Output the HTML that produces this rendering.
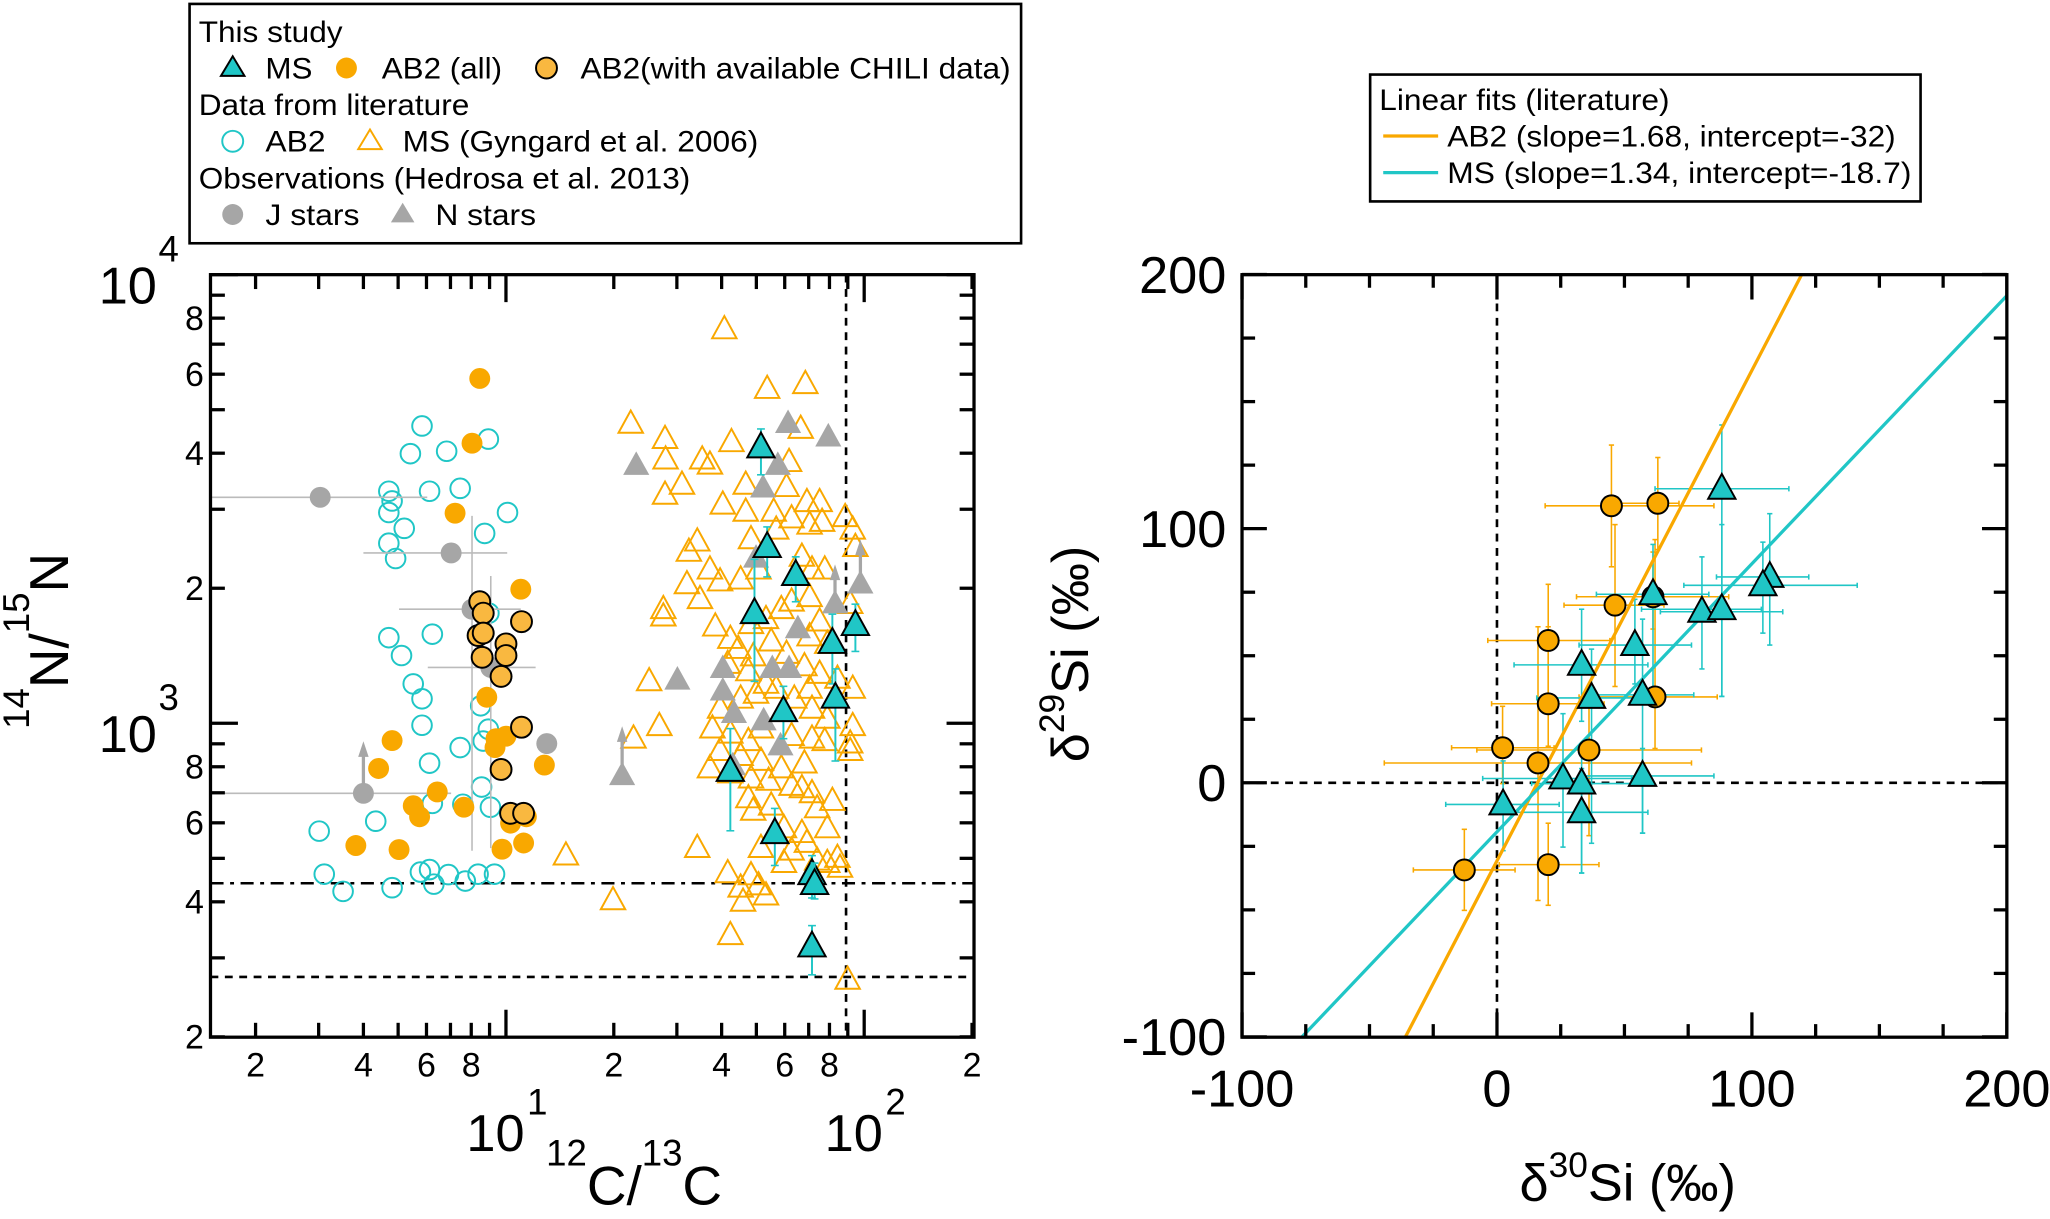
<!DOCTYPE html>
<html><head><meta charset="utf-8">
<style>
html,body{margin:0;padding:0;background:#fff;overflow:hidden;width:2050px;height:1219px;}
svg{display:block;font-family:"Liberation Sans",Arial,sans-serif;}
</style></head>
<body>
<svg id="chart" width="2050" height="1219" viewBox="0 0 1568 932" preserveAspectRatio="none" xmlns="http://www.w3.org/2000/svg">
<defs>
<clipPath id="clipL"><rect x="161" y="210" width="584" height="583"/></clipPath>
<clipPath id="clipR"><rect x="950" y="210" width="585" height="583"/></clipPath>
</defs>
<rect x="0" y="0" width="1568" height="932" fill="#fff"/>

<!-- Left legend -->
<g>
<rect x="145" y="3" width="636" height="183" fill="#fff" stroke="#000" stroke-width="2"/>
<text x="152" y="32" font-size="22.5" textLength="110" lengthAdjust="spacingAndGlyphs">This study</text>
<polygon points="178,43 169,58 187,58" fill="#20c6c6" stroke="#000" stroke-width="1.5"/>
<text x="203" y="60" font-size="22.5" textLength="36" lengthAdjust="spacingAndGlyphs">MS</text>
<circle cx="265" cy="52" r="8" fill="#f9a800"/>
<text x="292" y="60" font-size="22.5" textLength="92" lengthAdjust="spacingAndGlyphs">AB2 (all)</text>
<circle cx="418" cy="52" r="8" fill="#f9b840" stroke="#000" stroke-width="1.5"/>
<text x="444" y="60" font-size="22.5" textLength="329" lengthAdjust="spacingAndGlyphs">AB2(with available CHILI data)</text>
<text x="152" y="88" font-size="22.5" textLength="207" lengthAdjust="spacingAndGlyphs">Data from literature</text>
<circle cx="178" cy="108" r="8" fill="none" stroke="#20c6c6" stroke-width="1.5"/>
<text x="203" y="116" font-size="22.5" textLength="46" lengthAdjust="spacingAndGlyphs">AB2</text>
<polygon points="283,99 274,114 292,114" fill="none" stroke="#f9a800" stroke-width="1.5"/>
<text x="308" y="116" font-size="22.5" textLength="272" lengthAdjust="spacingAndGlyphs">MS (Gyngard et al. 2006)</text>
<text x="152" y="144" font-size="22.5" textLength="376" lengthAdjust="spacingAndGlyphs">Observations (Hedrosa et al. 2013)</text>
<circle cx="178" cy="164" r="8" fill="#a6a6a6"/>
<text x="203" y="172" font-size="22.5" textLength="72" lengthAdjust="spacingAndGlyphs">J stars</text>
<polygon points="308,155 299,170 317,170" fill="#a6a6a6"/>
<text x="333" y="172" font-size="22.5" textLength="77" lengthAdjust="spacingAndGlyphs">N stars</text>
</g>

<!-- Right legend -->
<g>
<rect x="1048" y="57" width="421" height="97" fill="#fff" stroke="#000" stroke-width="2"/>
<text x="1055" y="84" font-size="22.5" textLength="222" lengthAdjust="spacingAndGlyphs">Linear fits (literature)</text>
<line x1="1058" y1="104" x2="1100" y2="104" stroke="#f9a800" stroke-width="2.5"/>
<text x="1107" y="112" font-size="22.5" textLength="343" lengthAdjust="spacingAndGlyphs">AB2 (slope=1.68, intercept=-32)</text>
<line x1="1058" y1="132" x2="1100" y2="132" stroke="#20c6c6" stroke-width="2.5"/>
<text x="1107" y="140" font-size="22.5" textLength="355" lengthAdjust="spacingAndGlyphs">MS (slope=1.34, intercept=-18.7)</text>
</g>

<!-- Left axis titles -->
<text x="485" y="921" font-size="42" text-anchor="middle"><tspan font-size="28" dy="-30">12</tspan><tspan dy="30">C/</tspan><tspan font-size="28" dy="-30">13</tspan><tspan dy="30">C</tspan></text>
<text transform="translate(52,490) rotate(-90)" font-size="42" text-anchor="middle"><tspan font-size="28" dy="-30">14</tspan><tspan dy="30">N/</tspan><tspan font-size="28" dy="-30">15</tspan><tspan dy="30">N</tspan></text>
<!-- Right axis titles -->
<text x="1245" y="918" font-size="40" text-anchor="middle">δ<tspan font-size="27" dy="-18">30</tspan><tspan dy="18">Si (‰)</tspan></text>
<text transform="translate(832,500) rotate(-90)" font-size="40" text-anchor="middle">δ<tspan font-size="27" dy="-18">29</tspan><tspan dy="18">Si (‰)</tspan></text>

<g id="plots"></g>
</svg>

<script>
// ---------- LEFT PANEL DATA (12C/13C, 14N/15N) ----------
const ab2Lit = [[5.83,4600],[8.93,4300],[5.41,3990],[6.83,4040],[4.71,3290],[4.81,3130],[4.71,2950],[6.12,3290],[7.45,3340],[10.1,2950],[5.2,2720],[8.72,2650],[4.71,2520],[4.92,2330],[4.71,1552],[6.23,1580],[5.11,1416],[5.51,1224],[5.83,1134],[5.83,990],[8.96,1760],[8.5,1094],[8.93,970],[8.64,913],[7.45,883],[6.12,815],[8.55,721],[9.05,650],[6.23,663],[7.58,660],[4.33,605],[3.01,575],[3.11,461],[3.51,422],[4.81,430],[5.77,466],[6.12,472],[6.29,438],[6.91,460],[7.70,445],[8.36,461],[9.29,461]];
const msLit = [[40.7,7550],[53.6,5560],[68.5,5700],[22.3,4650],[27.8,4300],[42.6,4230],[66.5,4530],[61.7,3820],[35.3,3870],[37.1,3770],[27.9,3870],[31.0,3400],[27.8,3230],[46.7,3400],[60.7,3360],[40.3,3070],[46.7,2960],[55.9,2960],[62.7,2860],[69.2,3110],[75.1,3110],[88.5,2880],[92.9,2700],[70.4,2770],[76.3,2810],[48.3,2570],[56.8,2700],[34.2,2540],[32.4,2410],[37.1,2200],[39.6,2070],[45.2,2090],[50.7,2200],[67.0,2350],[71.5,2200],[77.6,2200],[94.5,2470],[32.0,2040],[34.8,1890],[27.5,1796],[27.5,1729],[38.4,1642],[42.3,1541],[48.3,1663],[53.2,1706],[58.7,1796],[62.7,1866],[70.4,1910],[75.1,1685],[91.4,1843],[49.0,1409],[44.5,1464],[55.0,1521],[60.7,1427],[70.4,1561],[78.9,1502],[41.6,1356],[47.5,1305],[53.2,1224],[68.1,1339],[75.1,1288],[84.2,1256],[92.9,1193],[70.4,1193],[25.1,1240],[26.8,985],[22.7,924],[39.6,1077],[45.2,1134],[49.9,1163],[56.8,1193],[63.8,1134],[71.5,1077],[78.9,1023],[92.9,985],[37.7,973],[42.3,948],[47.5,912],[51.5,973],[62.7,936],[71.5,924],[77.6,912],[91.4,901],[91.4,867],[39.6,867],[45.2,845],[51.5,824],[58.7,793],[68.1,813],[37.1,793],[42.3,773],[48.3,753],[54.1,744],[62.7,725],[71.5,698],[81.5,671],[34.2,527],[47.5,680],[49.0,638],[55.0,655],[67.0,716],[73.9,646],[78.9,583],[51.5,527],[62.7,520],[69.2,541],[84.2,501],[85.6,476],[41.6,463],[48.3,458],[45.2,430],[50.7,435],[53.2,413],[45.9,400],[19.9,403],[42.3,337],[73.9,494],[89.9,268],[59.7,583],[14.7,507],[67.0,569],[78.9,488],[59.7,488]];
const ab2All = [[8.45,5870],[8.04,4210],[7.21,2940],[11.0,1990],[4.81,915],[4.41,793],[6.43,703],[5.51,655],[5.74,619],[7.63,650],[3.81,534],[5.03,523],[8.84,1143],[9.38,924],[9.32,883],[10.0,936],[12.8,807],[10.3,599],[11.2,541],[9.75,524],[11.4,619]];
const ab2Chili = [[8.45,1866],[8.64,1760],[8.36,1569],[8.64,1589],[8.58,1403],[10.0,1503],[10.0,1416],[11.05,1685],[9.69,1272],[11.05,980],[9.69,789],[10.3,630],[11.2,630]];
const jStars = [[3.03,3190],[7.03,2397],[8.04,1796],[9.07,1332],[13.0,901],[4.0,698]];
const jXLo = [1.45,4.0,5.03,6.05,13.0,1.45];
const jXHi = [6.03,10.08,11.0,12.1,13.0,7.03];
const jYLo = [3190,2397,520,527,901,698];
const jYHi = [3190,2397,2900,2130,901,698];
const jArrow = [0,0,0,0,0,912];
const nStars = [[23.1,3750],[30.1,1246],[21.1,763],[61.3,4650],[57.4,3750],[79.4,4340],[52.2,3340],[49.9,2330],[82.9,1843],[97.6,2040],[65.3,1622],[55.4,1322],[61.7,1322],[40.3,1322],[40.3,1178],[43.3,1050],[52.4,1011],[58.4,889],[43.0,803]];
const nArrow = [0,0,985,0,0,0,0,0,2260,2568,0,0,0,0,0,0,0,0,0];
const msStudy = [[51.5,4120],[53.6,2470],[64.4,2140],[49.4,1760],[81.5,1510],[94.5,1655],[83.1,1140],[59.5,1064],[42.3,783],[56.3,569],[71.5,461],[72.7,438],[71.5,318]];
const msYLo = [3580,2120,1866,1240,1224,1446,824,924,576,482,408,406,275];
const msYHi = [4530,2740,2350,2320,1751,1843,1322,1209,973,646,507,488,354];
const refLinesY = [440,272];   // dash-dot, dashed
const refLineX = [89];
const leftMinorLabels = [2,4,6,8,20,40,60,80,200];
const leftYMinorLabels = [200,400,600,800,2000,4000,6000,8000];

// ---------- RIGHT PANEL DATA (δ30Si, δ29Si) ----------
const ab2Si = [[44.9,109.0],[63.1,110.0],[46.3,69.9],[20.1,56.0],[20.1,31.1],[62.0,33.8],[2.2,13.8],[16.1,7.8],[36.1,12.9],[-12.8,-34.3],[20.1,-32.2],[61.2,73.2]];
const ab2SiXLo = [18.9,43.9,26.3,-3.6,-2.1,32.2,-17.8,-44.2,-7.9,-32.8,0.9,31.2];
const ab2SiXHi = [85.1,71.4,65.5,44.3,42.0,86.4,22.4,76.3,80.2,7.1,40.0,90.9];
const ab2SiYLo = [85.0,91.8,37.9,33.0,14.4,13.5,-0.3,-46.3,-20.8,-50.2,-48.2,60.5];
const ab2SiYHi = [132.9,128.0,101.6,78.1,61.4,95.7,30.1,61.4,31.1,-18.3,-15.9,90.8];
const msSi = [[88.2,115.7],[107.0,81.0],[104.3,77.7],[80.4,67.3],[88.2,68.3],[61.2,74.2],[54.1,54.2],[33.2,46.4],[37.1,33.4],[57.1,34.6],[25.9,1.7],[33.2,-0.3],[57.1,2.7],[2.4,-8.5],[33.2,-11.6]];
const msSiXLo = [62.0,86.1,73.3,64.1,56.7,39.0,32.2,6.7,15.6,39.0,-5.6,13.6,34.2,-20.1,5.8];
const msSiXHi = [114.5,122.3,141.3,112.1,103.7,83.1,76.3,59.2,58.6,77.2,52.8,52.8,85.1,24.4,59.2];
const msSiYLo = [34.0,54.2,58.9,44.8,34.0,31.1,38.9,24.2,-23.8,-19.8,-25.3,-35.5,-19.8,-26.7,-35.5];
const msSiYHi = [140.8,105.9,94.7,88.9,101.6,93.8,72.2,68.3,52.6,64.4,27.2,15.4,13.5,8.6,5.6];
const fitNames = ['ab2-fit-line','ms-fit-line'];
const fitSlopes = [1.93,1.055];
const fitIntercepts = [-30.7,-19.3];
const rightTicks = [-100,0,100,200];

const CYAN='#20c6c6', ORANGE='#f9a800', GRAY='#a6a6a6', CHILI='#f9b840';
const NS='http://www.w3.org/2000/svg';
const root=document.getElementById('plots');
function mk(tag, attrs, parent){const e=document.createElementNS(NS,tag);for(const k in attrs)e.setAttribute(k,attrs[k]);(parent||root).appendChild(e);return e;}

// axes
const LXMIN=10**(1-226/274);
const lx=v=>387+274*(Math.log10(Math.max(v,LXMIN))-1);
const ly=v=>553-343*(Math.log10(v)-3);
const rx=v=>1145+1.95*v;
const ry=v=>598.5-1.943*v;

function tri(x,y,s,fill,stroke,parent){
  return mk('polygon',{points:`${x},${y-s*0.6} ${x-s*0.55},${y+s*0.4} ${x+s*0.55},${y+s*0.4}`,fill:fill,stroke:stroke,'stroke-width':1.5},parent);
}
function txt(x,y,s,size,anchor,parent){
  const t=mk('text',{x:x,y:y,'font-size':size,'text-anchor':anchor},parent);t.textContent=s;return t;
}

// ===== LEFT PANEL =====
const gL=mk('g',{'clip-path':'url(#clipL)'});



refLinesY.forEach((v,i)=>{
  const l=mk('line',{x1:161,x2:745,y1:ly(v),y2:ly(v),stroke:'#000','stroke-width':2,'stroke-dasharray':i===0?'10,5,3,5':'6,5'},gL);
  
  
});
refLineX.forEach(v=>{
  const l=mk('line',{x1:lx(v),x2:lx(v),y1:210,y2:793,stroke:'#000','stroke-width':2,'stroke-dasharray':'6,5'},gL);
  
  
});

ab2Lit.forEach(p=>{
  const c=mk('circle',{cx:lx(p[0]),cy:ly(p[1]),r:7.5,fill:'none',stroke:CYAN,'stroke-width':1.5},gL);
  
  
});
msLit.forEach(p=>{
  const t=tri(lx(p[0]),ly(p[1]),17,'none',ORANGE,gL);
  
  
});
// J stars
jStars.forEach((p,i)=>{
  const g=mk('g',{},gL);
  
  
  const x=lx(p[0]),y=ly(p[1]);
  if(jXLo[i]!==jXHi[i]) mk('line',{x1:lx(jXLo[i]),x2:lx(jXHi[i]),y1:y,y2:y,stroke:'#bbb','stroke-width':1.2},g);
  if(jYLo[i]!==jYHi[i]) mk('line',{x1:x,x2:x,y1:ly(jYLo[i]),y2:ly(jYHi[i]),stroke:'#bbb','stroke-width':1.2},g);
  if(jArrow[i]){mk('line',{x1:x,x2:x,y1:y,y2:ly(jArrow[i])+6,stroke:GRAY,'stroke-width':2.5},g);
    mk('polygon',{points:`${x},${ly(jArrow[i])} ${x-4},${ly(jArrow[i])+12} ${x+4},${ly(jArrow[i])+12}`,fill:GRAY},g);}
  mk('circle',{cx:x,cy:y,r:8,fill:GRAY},g);
});
nStars.forEach((p,i)=>{
  const g=mk('g',{},gL);
  
  
  const x=lx(p[0]),y=ly(p[1]);
  if(nArrow[i]){mk('line',{x1:x,x2:x,y1:y,y2:ly(nArrow[i])+6,stroke:GRAY,'stroke-width':2.5},g);
    mk('polygon',{points:`${x},${ly(nArrow[i])} ${x-4},${ly(nArrow[i])+12} ${x+4},${ly(nArrow[i])+12}`,fill:GRAY},g);}
  mk('polygon',{points:`${x},${y-11} ${x-10},${y+7} ${x+10},${y+7}`,fill:GRAY},g);
});
ab2All.forEach(p=>{
  const c=mk('circle',{cx:lx(p[0]),cy:ly(p[1]),r:8,fill:ORANGE},gL);
  
  
});
ab2Chili.forEach(p=>{
  const c=mk('circle',{cx:lx(p[0]),cy:ly(p[1]),r:8,fill:CHILI,stroke:'#000','stroke-width':1.5},gL);
  
  
});
msStudy.forEach((p,i)=>{
  const g=mk('g',{},gL);
  
  
  const x=lx(p[0]);
  mk('line',{x1:x,x2:x,y1:ly(msYLo[i]),y2:ly(msYHi[i]),stroke:CYAN,'stroke-width':1.5},g);
  mk('line',{x1:x-3,x2:x+3,y1:ly(msYLo[i]),y2:ly(msYLo[i]),stroke:CYAN,'stroke-width':1.2},g);
  mk('line',{x1:x-3,x2:x+3,y1:ly(msYHi[i]),y2:ly(msYHi[i]),stroke:CYAN,'stroke-width':1.2},g);
  tri(x,ly(p[1]),19,CYAN,'#000',g);
});

// left frame & ticks
const fL=mk('rect',{x:161,y:210,width:584,height:583,fill:'none',stroke:'#000','stroke-width':2.5});


const tkL=mk('g',{stroke:'#000','stroke-width':2.5});


[1,10,100].forEach(d=>{for(let m=1;m<=9;m++){const v=d*m;const x=lx(v);if(x<161.5||x>744.5)continue;const L=m===1?21:11;
  mk('line',{x1:x,x2:x,y1:793,y2:793-L},tkL);mk('line',{x1:x,x2:x,y1:210,y2:210+L},tkL);}});
[100,1000,10000].forEach(d=>{for(let m=1;m<=9;m++){const v=d*m;const y=ly(v);if(y<209.5||y>793.5)continue;const L=m===1?21:11;
  mk('line',{x1:161,x2:161+L,y1:y,y2:y},tkL);mk('line',{x1:745,x2:745-L,y1:y,y2:y},tkL);}});
const lblL=mk('g',{});


leftMinorLabels.forEach(v=>{txt(lx(v),823,String(v).charAt(0),26,'middle',lblL);});
leftYMinorLabels.forEach(v=>{txt(156,ly(v)+9,String(v).charAt(0),26,'end',lblL);});
[[10,'1'],[100,'2']].forEach(a=>{const x=lx(a[0]);txt(x-8,880,'10',40,'middle',lblL);txt(x+24,852,a[1],28,'middle',lblL);});
[[10000,'4'],[1000,'3']].forEach(a=>{const y=ly(a[0]);txt(120,y+22,'10',40,'end',lblL);txt(129,y-10,a[1],28,'middle',lblL);});

// ===== RIGHT PANEL =====
const gR=mk('g',{'clip-path':'url(#clipR)'});


const z1=mk('line',{x1:950,x2:1535,y1:ry(0),y2:ry(0),stroke:'#000','stroke-width':2,'stroke-dasharray':'6,5'},gR);


const z2=mk('line',{x1:rx(0),x2:rx(0),y1:210,y2:793,stroke:'#000','stroke-width':2,'stroke-dasharray':'6,5'},gR);



function errs(pts,xlo,xhi,ylo,yhi,col,g){
  pts.forEach((p,i)=>{const x=rx(p[0]),y=ry(p[1]);
    mk('line',{x1:rx(xlo[i]),x2:rx(xhi[i]),y1:y,y2:y,stroke:col,'stroke-width':1.2},g);
    mk('line',{x1:x,x2:x,y1:ry(ylo[i]),y2:ry(yhi[i]),stroke:col,'stroke-width':1.2},g);
    [xlo[i],xhi[i]].forEach(v=>mk('line',{x1:rx(v),x2:rx(v),y1:y-2,y2:y+2,stroke:col,'stroke-width':1.2},g));
    [ylo[i],yhi[i]].forEach(v=>mk('line',{x1:x-2,x2:x+2,y1:ry(v),y2:ry(v),stroke:col,'stroke-width':1.2},g));
  });
}
const eA=mk('g',{},gR);


errs(ab2Si,ab2SiXLo,ab2SiXHi,ab2SiYLo,ab2SiYHi,ORANGE,eA);
const eM=mk('g',{},gR);


errs(msSi,msSiXLo,msSiXHi,msSiYLo,msSiYHi,CYAN,eM);

fitSlopes.forEach((s,i)=>{
  const b=fitIntercepts[i];
  // clamp line to axis box [-100,200]x[-100,200]
  let xa=Math.max(-100,(-100-b)/s), xb=Math.min(200,(200-b)/s);
  const l=mk('line',{x1:rx(xa),y1:ry(s*xa+b),x2:rx(xb),y2:ry(s*xb+b),stroke:i===0?ORANGE:CYAN,'stroke-width':2.5},gR);
  
  
});
ab2Si.forEach(p=>{
  const c=mk('circle',{cx:rx(p[0]),cy:ry(p[1]),r:8,fill:ORANGE,stroke:'#000','stroke-width':1.5},gR);
  
  
});
msSi.forEach(p=>{
  const t=tri(rx(p[0]),ry(p[1]),19,CYAN,'#000',gR);
  
  
});

const fR=mk('rect',{x:950,y:210,width:585,height:583,fill:'none',stroke:'#000','stroke-width':2.5});


const tkR=mk('g',{stroke:'#000','stroke-width':2.5});


for(let v=-100;v<=200;v+=25){const L=(v%100===0)?19:10;const x=rx(v),y=ry(v);
  mk('line',{x1:x,x2:x,y1:793,y2:793-L},tkR);mk('line',{x1:x,x2:x,y1:210,y2:210+L},tkR);
  mk('line',{x1:950,x2:950+L,y1:y,y2:y},tkR);mk('line',{x1:1535,x2:1535-L,y1:y,y2:y},tkR);}
const lblR=mk('g',{});


rightTicks.forEach(v=>{txt(rx(v),846,String(v),40,'middle',lblR);txt(938,ry(v)+14,String(v),40,'end',lblR);});
</script>
</body></html>
